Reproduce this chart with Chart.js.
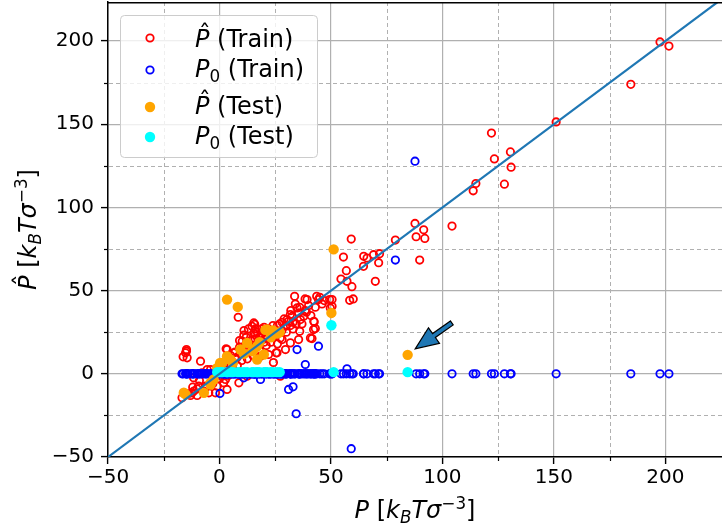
<!DOCTYPE html>
<html>
<head>
<meta charset="utf-8">
<script src="https://cdn.jsdelivr.net/npm/chart.js@4.4.0/dist/chart.umd.min.js"></script>
<style>
  html, body { margin: 0; padding: 0; background: #fff; overflow: hidden; }
</style>
</head>
<body>
<canvas id="pressureChart" width="722" height="529"></canvas>
<script>
const FONT = '"DejaVu Sans", sans-serif';

// axes: same range for P and P-hat
const axisMin = -50;
const xAxisMax = 225.4;
const yAxisMax = 223.5;
const majorTicks = [-50, 0, 50, 100, 150, 200];
const minorTicks = [-25, 25, 75, 125, 175];

// training samples: pressure P, prediction P-hat, baseline P0
const trainP = [
  197.6, 201.6, 184.5, 151.0, 122.0, 123.3, 130.5, 130.8, 115.0, 113.8,
  127.8, 104.3, 87.7, 91.6, 88.2, 92.1, 78.9, 89.8, 59.1, 55.6,
  64.7, 66.2, 69.1, 71.8, 71.4, 64.6, 54.5, 69.9, 57.2, 59.4,
  58.4, 50.5, 50.5, 49.7, 33.7, 38.4, 43.6, 44.4, 39.3, 49.4,
  34.8, 31.8, 35.5, 37.8, 42.5, 43.0, 36.0, 41.5, 30.3, 28.1,
  31.8, 26.6, 28.1, 35.5, 32.6, 31.0, 36.3, 42.3, 29.6, 24.6,
  25.4, 27.3, 29.6, 22.0, 24.2, 27.3, 42.2, 40.8, 33.0, 34.4,
  38.5, 31.8, 25.8, 15.8, 10.9, 15.4, 15.4, 16.1, 10.2, 9.4,
  3.4, 8.4, 3.0, -14.8, -8.5, -14.8, -16.3, -16.8, -12.3, -9.3,
  -7.1, -11.6, -4.0, 2.7, 8.7, 3.4, -1.0, -4.8, 12.4, 16.9,
  -15.2, -14.5, -5.5, -11.5, -6.3, 1.9, 6.4, 14.6, 18.4, -1.8,
  0.2, -13.0, -10.0, -3.0, 0.0, 4.0, 6.0, 8.0, 11.0, 14.0,
  17.0, 20.0, 22.5, 20.0, 12.0, 5.0, 7.0, 13.0, 18.0, 21.0,
  23.0, 19.0, -2.0, 1.0, 9.0, 10.0, 26.0, 16.0, 56.9, 60.0,
  -7.8, 2.0, 3.0, 5.0, 6.0, 7.0, 8.0, 9.0, 10.0, 11.0,
  12.0, 12.5, 13.0, 14.0, 15.0, 16.0, 17.0, 18.0, 19.0, 20.0,
  21.0, 22.0, 23.0, 24.0, 25.0, 26.0, 27.0, 28.0, 29.0, 30.0,
  32.0, 33.0, 34.0, 36.0, 37.0, 39.0, 40.0, 41.0, 43.0, 45.0,
  46.0, 47.0, -12.0, -9.0, -6.0, -3.0, 0.0, 2.0, 4.0, -10.0,
  -14.0
];
const trainPhat = [
  199.5, 197.0, 174.0, 151.4, 144.7, 129.2, 133.4, 124.2, 114.4, 110.0,
  114.0, 88.8, 90.4, 86.6, 82.4, 81.4, 80.4, 68.4, 81.0, 70.2,
  70.6, 69.6, 71.6, 72.2, 66.8, 64.6, 57.0, 55.6, 55.6, 52.4,
  44.2, 44.6, 40.6, 39.6, 46.6, 45.0, 46.6, 44.6, 44.6, 44.6,
  39.6, 35.6, 36.6, 34.6, 31.2, 27.2, 25.6, 21.2, 32.6, 31.0,
  29.0, 25.6, 20.6, 20.6, 34.6, 31.6, 32.6, 31.6, 28.6, 24.6,
  12.6, 21.6, 14.6, 11.6, 6.8, -1.4, 26.6, 21.6, 27.0, 30.0,
  38.0, 18.6, 12.6, 29.8, 23.2, 24.6, 30.6, 23.6, 19.6, 12.6,
  14.6, 34.0, 15.0, 14.6, 7.6, 13.6, 10.2, -14.4, -11.4, -7.4,
  -10.4, -2.4, 2.6, -3.4, -5.4, -9.4, -7.4, -11.4, -1.4, 0.6,
  12.6, 9.6, 2.6, -10.4, -7.4, -5.4, 12.6, 28.6, 10.6, -11.4,
  -1.0, -13.0, -9.0, -2.0, 1.0, 6.0, 7.0, 10.0, 12.0, 15.5,
  18.0, 21.0, 24.0, 19.0, 15.0, 4.0, 9.0, 18.0, 22.0, 17.0,
  26.0, 27.0, 0.0, 3.0, 16.0, 8.0, 29.0, 21.0, 62.0, 45.0,
  0.6, 5.0, 8.0, 11.0, 3.0, 13.0, 5.0, 20.0, 15.0, 26.0,
  22.0, 9.0, 27.0, 20.0, 11.0, 27.0, 25.0, 14.0, 24.0, 28.0,
  22.0, 27.0, 19.0, 29.0, 23.0, 18.0, 30.0, 26.0, 33.0, 25.0,
  38.0, 31.0, 42.0, 40.0, 30.0, 37.0, 41.0, 35.0, 40.0, 46.0,
  42.0, 44.0, -8.0, -4.0, -8.0, -6.0, -3.0, 0.0, -1.0, -13.0,
  -12.0
];
const trainP0 = [
  0, 0, 0, 0, 0, 0, 0, 0, 0, 0,
  0, 0, 127.8, 0, 0, 0, 68.4, 0, -45.0, 0,
  0, 0, 0, 0, 0, 0, 0, 0, 3.0, 0,
  0, 0, 0, 0, 0, 0, 0, 16.6, 0, 0,
  14.6, 0, 0, 0, 0, 0, 0, 0, 0, 0,
  0, 0, 0, 0, 0, -9.4, 0, 0, 0, 0,
  0, 0, 0, 0, 0, 0, 0, 0, -7.8, -24.0,
  5.6, 0, 0, 0, -2.4, 0, 0, 0, 0, 0,
  0, 0, 0, 0, 0, 0, 0, 0, 0, 0,
  0, 0, 0, 0, 0, 0, 0, 0, 0, 0,
  0, 0, 0, 0, 0, 0, 0, 0, -3.4, 0,
  -11.8, 0, 0, 0, 0, 0, 0, 0, 0, 0,
  0, 0, 0, 0, 0, 0, 0, 0, 0, 0,
  0, 0, 0, 0, 0, 0, 0, 0, 0, 0,
  0, 0, 0, 0, 0, 0, 0, 0, 0, 0,
  0, 0, 0, 0, 0, 0, 0, 0, 0, 0,
  0, 0, 0, 0, 0, 0, 0, 0, 0, 0,
  0, 0, 0, 0, 0, 0, 0, 0, 0, 0,
  0, 0, 0, 0, 0, 0, 0, 0, 0, 0,
  0
];

// test samples (no P0 drawn for the negative ones)
const testP = [
  84.4, 50.2, 51.2, 3.4, 8.2, 20.6, 25.8, 21.4, 16.9, 19.9,
  12.4, 15.4, 9.4, 14.6, 16.9, 3.4, 0.3, 4.9, 1.2, -1.0,
  6.0, 11.0, 18.0, 23.0, 27.0, 24.0, -2.6, -4.0, -4.0, -7.0,
  -15.2, -16.0
];
const testPhat = [
  11.4, 36.6, 74.8, 44.6, 40.2, 26.4, 24.2, 26.6, 16.6, 11.6,
  18.6, 14.6, 14.6, 13.6, 8.6, 10.6, 6.6, 8.6, 6.6, 3.6,
  6.5, 12.0, 19.0, 22.0, 25.0, 26.0, -3.4, -5.4, -6.4, -11.4,
  -12.4, -11.4
];
const testP0 = [
  1, 29.2, 1, 1, 1, 1, 1, 1, 1, 1,
  1, 1, 1, 1, 1, 1, 1, 1, 1, 1,
  1, 1, 1, 1, 1, 1, null, null, null, null,
  null, null
];

const identityLine = [-50, 230];
const arrowTail = [104.2, 30.6];
const arrowTip = [87.8, 15.0];

function toPoints(xs, ys) {
  return xs.map((x, i) => ({ x: x, y: ys[i] }));
}

function fmtTick(v) {
  return v < 0 ? '\u2212' + Math.abs(v) : String(v);
}

// draws text runs with italic / sub / superscript pieces, centred or left aligned
function drawMath(ctx, runs, x, y, size, align) {
  const items = runs.map(r => {
    const fs = (r.sub || r.sup) ? size * 0.7 : size;
    const font = (r.it ? 'italic ' : '') + fs + 'px ' + FONT;
    ctx.font = font;
    return { r: r, font: font, w: ctx.measureText(r.t).width };
  });
  const total = items.reduce((s, it) => s + it.w, 0);
  let cx = align === 'center' ? x - total / 2 : x;
  ctx.textAlign = 'left';
  ctx.textBaseline = 'alphabetic';
  ctx.fillStyle = '#000';
  items.forEach(it => {
    const dy = it.r.sub ? size * 0.2 : (it.r.sup ? -size * 0.38 : 0);
    ctx.font = it.font;
    ctx.fillText(it.r.t, cx, y + dy);
    if (it.r.hat) {
      ctx.font = size + 'px ' + FONT;
      ctx.textAlign = 'center';
      ctx.fillText('\u02C6', cx + it.w / 2 + size * 0.1, y - size * 0.2);
      ctx.textAlign = 'left';
    }
    cx += it.w;
  });
}

const unitRuns = [
  { t: ' [' }, { t: 'k', it: true }, { t: 'B', it: true, sub: true },
  { t: 'T', it: true }, { t: '\u03C3', it: true }, { t: '\u22123', sup: true }, { t: ']' }
];

const legendItems = [
  { runs: [{ t: 'P', it: true, hat: true }, { t: ' (Train)' }], color: '#ff0000', filled: false },
  { runs: [{ t: 'P', it: true }, { t: '0', sub: true }, { t: ' (Train)' }], color: '#0000ff', filled: false },
  { runs: [{ t: 'P', it: true, hat: true }, { t: ' (Test)' }], color: '#ffa500', filled: true },
  { runs: [{ t: 'P', it: true }, { t: '0', sub: true }, { t: ' (Test)' }], color: '#00ffff', filled: true }
];

const decorations = {
  id: 'decorations',
  beforeDatasetsDraw(chart) {
    const ctx = chart.ctx;
    const a = chart.chartArea;
    const xs = chart.scales.x, ys = chart.scales.y;
    ctx.save();
    // dashed minor grid
    ctx.strokeStyle = '#b0b0b0';
    ctx.lineWidth = 1;
    ctx.setLineDash([4, 3]);
    minorTicks.forEach(v => {
      const px = Math.round(xs.getPixelForValue(v)) + 0.5;
      ctx.beginPath(); ctx.moveTo(px, a.top); ctx.lineTo(px, a.bottom - 1); ctx.stroke();
      const py = Math.round(ys.getPixelForValue(v)) + 0.5;
      ctx.beginPath(); ctx.moveTo(a.left + 1, py); ctx.lineTo(a.right, py); ctx.stroke();
    });
    // minor tick marks
    ctx.setLineDash([]);
    ctx.strokeStyle = '#000';
    ctx.lineWidth = 1.2;
    minorTicks.forEach(v => {
      const px = Math.round(xs.getPixelForValue(v)) + 0.5;
      ctx.beginPath(); ctx.moveTo(px, a.bottom); ctx.lineTo(px, a.bottom + 4); ctx.stroke();
      const py = Math.round(ys.getPixelForValue(v)) + 0.5;
      ctx.beginPath(); ctx.moveTo(a.left, py); ctx.lineTo(a.left - 4, py); ctx.stroke();
    });
    ctx.restore();
  },
  afterDatasetsDraw(chart) {
    // annotation arrow
    const ctx = chart.ctx;
    const xs = chart.scales.x, ys = chart.scales.y;
    const tx = xs.getPixelForValue(arrowTail[0]), ty = ys.getPixelForValue(arrowTail[1]);
    const hx = xs.getPixelForValue(arrowTip[0]), hy = ys.getPixelForValue(arrowTip[1]);
    const len = Math.hypot(hx - tx, hy - ty);
    const ux = (hx - tx) / len, uy = (hy - ty) / len;
    const nx = -uy, ny = ux;
    const headLen = 23, headHalf = 9.5, shaftHalf = 2.4;
    const bx = hx - ux * headLen, by = hy - uy * headLen;
    ctx.save();
    ctx.beginPath();
    ctx.moveTo(tx + nx * shaftHalf, ty + ny * shaftHalf);
    ctx.lineTo(bx + nx * shaftHalf, by + ny * shaftHalf);
    ctx.lineTo(bx + nx * headHalf, by + ny * headHalf);
    ctx.lineTo(hx, hy);
    ctx.lineTo(bx - nx * headHalf, by - ny * headHalf);
    ctx.lineTo(bx - nx * shaftHalf, by - ny * shaftHalf);
    ctx.lineTo(tx - nx * shaftHalf, ty - ny * shaftHalf);
    ctx.closePath();
    ctx.fillStyle = '#1f77b4';
    ctx.fill();
    ctx.strokeStyle = '#000';
    ctx.lineWidth = 1.2;
    ctx.lineJoin = 'miter';
    ctx.stroke();
    ctx.restore();
  },
  afterDraw(chart) {
    const ctx = chart.ctx;
    const a = chart.chartArea;
    ctx.save();
    // top spine
    ctx.strokeStyle = '#000';
    ctx.lineWidth = 1.5;
    ctx.beginPath(); ctx.moveTo(a.left, a.top + 0.75); ctx.lineTo(a.right, a.top + 0.75); ctx.stroke();

    // legend box
    const lx = 120.5, ly = 15.5, lw = 197, lh = 142;
    ctx.beginPath();
    ctx.roundRect(lx, ly, lw, lh, 4);
    ctx.fillStyle = 'rgba(255,255,255,0.8)';
    ctx.fill();
    ctx.strokeStyle = '#cccccc';
    ctx.lineWidth = 1;
    ctx.stroke();
    const markerY = [38, 70, 107, 137];
    const textY = [47, 77, 114, 144];
    legendItems.forEach((it, i) => {
      ctx.beginPath();
      if (it.filled) {
        ctx.arc(150, markerY[i], 5.2, 0, Math.PI * 2);
        ctx.fillStyle = it.color;
        ctx.fill();
      } else {
        ctx.arc(150, markerY[i], 3.7, 0, Math.PI * 2);
        ctx.strokeStyle = it.color;
        ctx.lineWidth = 1.8;
        ctx.stroke();
      }
      drawMath(ctx, it.runs, 195, textY[i], 24, 'left');
    });

    // axis titles
    drawMath(ctx, [{ t: 'P', it: true }].concat(unitRuns), (a.left + a.right) / 2, 518, 24, 'center');
    ctx.translate(36, (a.top + a.bottom) / 2);
    ctx.rotate(-Math.PI / 2);
    drawMath(ctx, [{ t: 'P', it: true, hat: true }].concat(unitRuns), 0, 0, 24, 'center');
    ctx.restore();
  }
};

function axisOptions(max, isX) {
  return {
    type: 'linear',
    min: axisMin,
    max: max,
    afterBuildTicks: s => { s.ticks = majorTicks.map(v => ({ value: v })); },
    afterFit: s => {
      if (isX) s.height = 72; else s.width = 108;
      s.paddingTop = 0; s.paddingBottom = 0; s.paddingLeft = 0; s.paddingRight = 0;
    },
    ticks: {
      font: { family: FONT, size: 20 },
      color: '#000',
      padding: isX ? 2 : 7,
      maxRotation: 0,
      autoSkip: false,
      callback: fmtTick
    },
    grid: { color: '#b0b0b0', lineWidth: 1.2, tickLength: 7, tickColor: '#000', tickWidth: 1.4 },
    border: { color: '#000', width: 1.5 }
  };
}

new Chart(document.getElementById('pressureChart').getContext('2d'), {
  type: 'scatter',
  data: {
    datasets: [
      {
        label: 'P-hat (Train)',
        data: toPoints(trainP, trainPhat),
        borderColor: '#ff0000', backgroundColor: 'rgba(0,0,0,0)',
        borderWidth: 1.8, pointRadius: 3.7, order: 5
      },
      {
        label: 'P0 (Train)',
        data: toPoints(trainP, trainP0),
        borderColor: '#0000ff', backgroundColor: 'rgba(0,0,0,0)',
        borderWidth: 1.8, pointRadius: 3.7, order: 4
      },
      {
        label: 'P-hat (Test)',
        data: toPoints(testP, testPhat),
        borderColor: '#ffa500', backgroundColor: '#ffa500',
        borderWidth: 0, pointRadius: 5.2, order: 3
      },
      {
        label: 'P0 (Test)',
        data: toPoints(testP, testP0),
        borderColor: '#00ffff', backgroundColor: '#00ffff',
        borderWidth: 0, pointRadius: 5.2, order: 2
      },
      {
        label: 'y = x',
        data: toPoints(identityLine, identityLine),
        showLine: true, borderColor: '#1f77b4', borderWidth: 2.2,
        pointRadius: 0, order: 1
      }
    ]
  },
  options: {
    responsive: false,
    animation: false,
    events: [],
    layout: { autoPadding: false, padding: { top: 2, right: 0, bottom: 0, left: 0 } },
    plugins: { legend: { display: false }, tooltip: { enabled: false } },
    scales: {
      x: axisOptions(xAxisMax, true),
      y: axisOptions(yAxisMax, false)
    }
  },
  plugins: [decorations]
});
</script>
</body>
</html>
